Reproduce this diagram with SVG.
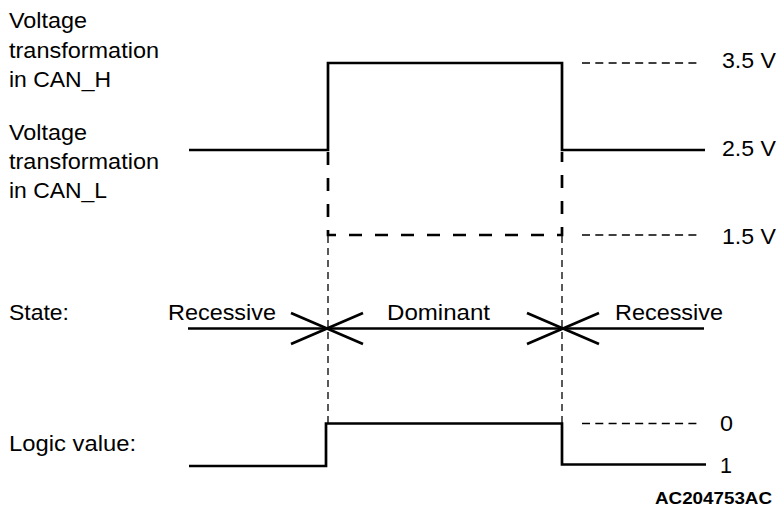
<svg xmlns="http://www.w3.org/2000/svg" width="779" height="515" viewBox="0 0 779 515">
<style>
  text { font-family: "Liberation Sans", Arial, sans-serif; font-size: 21.5px; fill: #000; }
  .bold { font-weight: bold; font-size: 16px; }
  .sig { fill: none; stroke: #000; stroke-width: 2.7; stroke-linejoin: miter; }
  .sigdash { fill: none; stroke: #000; stroke-width: 2.7; stroke-dasharray: 13 13; }
  .guide { fill: none; stroke: #000; stroke-width: 1.3; stroke-dasharray: 7 5; }
  .ref { fill: none; stroke: #000; stroke-width: 1.3; stroke-dasharray: 8 5.3; }
  .state { fill: none; stroke: #000; stroke-width: 2.7; }
</style>
<rect width="779" height="515" fill="#fff"/>

<g id="labels">
  <text x="9" y="28" textLength="78" lengthAdjust="spacingAndGlyphs">Voltage</text>
  <text x="9" y="58" textLength="150" lengthAdjust="spacingAndGlyphs">transformation</text>
  <text x="9" y="87" textLength="102" lengthAdjust="spacingAndGlyphs">in CAN_H</text>
  <text x="9" y="140" textLength="78" lengthAdjust="spacingAndGlyphs">Voltage</text>
  <text x="9" y="169" textLength="150" lengthAdjust="spacingAndGlyphs">transformation</text>
  <text x="9" y="198" textLength="98" lengthAdjust="spacingAndGlyphs">in CAN_L</text>
  <text x="9" y="320" textLength="60" lengthAdjust="spacingAndGlyphs">State:</text>
  <text x="9" y="451" textLength="127" lengthAdjust="spacingAndGlyphs">Logic value:</text>
  <text x="168" y="320" textLength="108" lengthAdjust="spacingAndGlyphs">Recessive</text>
  <text x="387" y="320" textLength="103" lengthAdjust="spacingAndGlyphs">Dominant</text>
  <text x="615" y="320" textLength="108" lengthAdjust="spacingAndGlyphs">Recessive</text>
  <text x="722" y="68" textLength="54" lengthAdjust="spacingAndGlyphs">3.5 V</text>
  <text x="722" y="156" textLength="54" lengthAdjust="spacingAndGlyphs">2.5 V</text>
  <text x="722" y="244" textLength="54" lengthAdjust="spacingAndGlyphs">1.5 V</text>
  <text x="720" y="431" textLength="13" lengthAdjust="spacingAndGlyphs">0</text>
  <text x="720" y="473" textLength="12" lengthAdjust="spacingAndGlyphs">1</text>
  <text class="bold" x="655" y="504" textLength="117" lengthAdjust="spacingAndGlyphs">AC204753AC</text>
</g>

<g id="connectors">
  <!-- guide verticals -->
  <line class="guide" x1="328" y1="236" x2="328" y2="423"/>
  <line class="guide" x1="562" y1="236" x2="562" y2="424"/>
  <!-- reference level lines -->
  <line class="ref" x1="582" y1="63" x2="700" y2="63"/>
  <line class="ref" x1="582" y1="235" x2="700" y2="235"/>
  <line class="ref" x1="582" y1="423.5" x2="700" y2="423.5"/>
  <!-- CAN_H -->
  <path class="sig" d="M189,150 H328 V63 H562 V150 H705"/>
  <!-- CAN_L (dashed) -->
  <path class="sigdash" d="M328,152 V235 H562 V152"/>
  <!-- state line and crosses -->
  <line class="state" x1="188" y1="328.5" x2="704" y2="328.5"/>
  <path class="state" d="M291,313 L363,344 M291,344 L363,313"/>
  <path class="state" d="M527,313 L599,344 M527,344 L599,313"/>
  <!-- logic value -->
  <path class="sig" d="M189,466 H326 V423.5 H562 V464.5 H706"/>
</g>
</svg>
